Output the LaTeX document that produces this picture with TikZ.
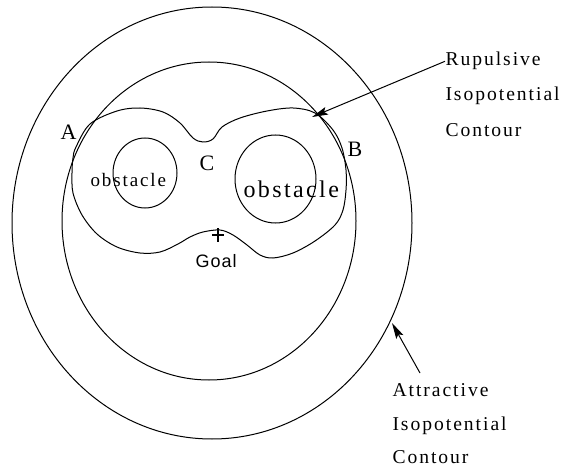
\documentclass[tikz,border=0pt]{standalone}
\usepackage{fontspec}
\setmainfont{Liberation Serif}[LetterSpace=10]
\newfontfamily\goalfont{Liberation Sans}[LetterSpace=6]
\usetikzlibrary{arrows.meta,positioning,shapes.geometric}
\begin{document}
\begin{tikzpicture}[x=1pt,y=-1pt,line width=1pt,
  contour/.style={ellipse,draw,inner sep=0pt,outer sep=0pt},
  lbl/.style={inner sep=0pt,anchor=base west,font=\fontsize{19.6}{22}\selectfont},
  ptlbl/.style={inner sep=0pt,anchor=base west,font=\fontsize{22}{24}\selectfont},
  arrow/.style={-{Stealth[length=16pt,width=8pt,inset=3pt]},line width=1pt}]
\useasboundingbox (0,0) rectangle (565,468);
\node[contour,minimum width=400pt,minimum height=432pt](attr) at (212,223) {};
\node[contour,minimum width=294pt,minimum height=318pt](inner) at (209,221) {};
\node[contour,minimum width=64pt,minimum height=70pt](obs1) at (145,173) {};
\node[contour,minimum width=81pt,minimum height=88pt](obs2) at (275.5,179) {};
\draw plot[smooth cycle,tension=0.55] coordinates {
  (76,147) (90,124) (117,111) (140,108) (163,112) (180,123) (193,138) (203,142)
  (213,139) (222,127) (240,118) (267,111) (293,108) (315,113) (333,130) (342,148)
  (346,170) (346,190) (343,210) (335,225) (315,241) (293,253) (273,258) (260,255)
  (247,245) (233,235) (220,230) (203,232) (190,237) (178,244) (160,252) (140,253)
  (117,247) (97,234) (82,215) (73,193) (72,173) (73,158)};
\node[ptlbl](A) at (60,140) {A};
\node[ptlbl](B) at (347,157) {B};
\node[ptlbl](C) at (199,171) {C};
\node[inner sep=0pt,anchor=base west,font=\fontsize{19}{21}\selectfont](ob1) at (90,186) {obstacle};
\node[inner sep=0pt,anchor=base west,font=\fontsize{24}{26}\selectfont](ob2) at (243,197) {obstacle};
\coordinate (goal) at (218,235);
\draw[line width=1.3pt] (goal) ++(-6,0) -- ++(12,0) (goal) ++(0,-7) -- ++(0,14);
\node[inner sep=0pt,anchor=base west,font=\goalfont\fontsize{18}{20}\selectfont](goaltxt) at (195,267) {Goal};
\node[lbl](rep1) at (445,66) {Rupulsive};
\node[lbl](rep2) at (445,101) {Isopotential};
\node[lbl](rep3) at (445,137) {Contour};
\node[lbl](att1) at (392,396) {Attractive};
\node[lbl](att2) at (392,430) {Isopotential};
\node[lbl](att3) at (392,463) {Contour};
\coordinate (reptip) at (312,117);
\coordinate (atttip) at (392,323);
\coordinate (atttail) at (420,373);
\draw[arrow](rep1.west)--(reptip);
\draw[arrow](atttail)--(atttip);
\end{tikzpicture}
\end{document}
